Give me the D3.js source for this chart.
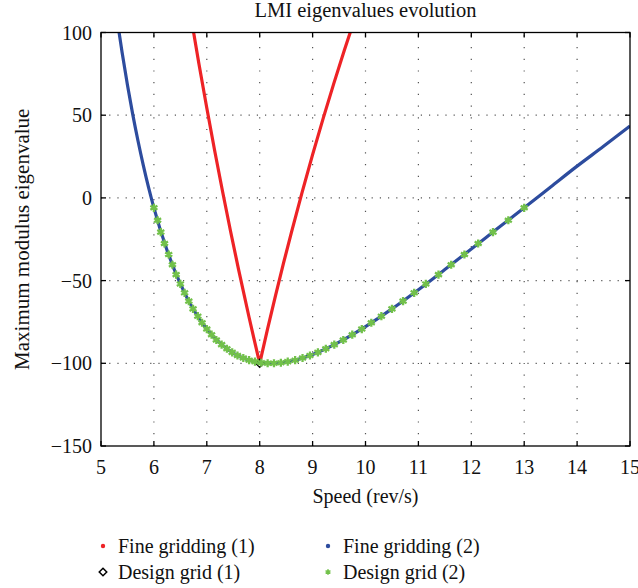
<!DOCTYPE html>
<html>
<head>
<meta charset="utf-8">
<script src="https://cdn.jsdelivr.net/npm/d3@7"></script>
<style>
  body { margin: 0; background: #fff; }
  svg text { font-family: "Liberation Serif", "DejaVu Serif", serif; fill: #111; }
</style>
</head>
<body>
<div id="chart"></div>
<script>
const W = 638, H = 588;
const MARGIN = { LEFT: 101, RIGHT: 8, TOP: 32.5, BOTTOM: 142 };

// data
const xTicks = [5, 6, 7, 8, 9, 10, 11, 12, 13, 14, 15];
const yTicks = [100, 50, 0, -50, -100, -150];

// Fine gridding (1) - red V
const fine1X = [6.7, 6.85, 7.0, 7.15, 7.3, 7.45, 7.6, 7.8, 7.9, 8.0, 8.15, 8.3, 8.45, 8.6, 8.8, 9.0, 9.2, 9.4, 9.6, 9.8];
const fine1Y = [109.6, 81.3, 54.3, 28.4, 3.6, -20.3, -43.2, -72.3, -86.3, -100, -79.1, -59.0, -39.5, -20.8, 3.2, 26.2, 48.1, 69.1, 89.3, 108.6];

// Fine gridding (2) - blue curve
const fine2X = [5.3, 5.4, 5.5, 5.6, 5.7, 5.8, 5.9, 6.0, 6.25, 6.5, 6.75, 7.0, 7.25, 7.5, 7.75, 8.0, 8.25, 8.5, 8.75, 9.0, 9.5, 10, 10.5, 11, 11.5, 12, 12.5, 13, 13.5, 14, 14.5, 15];
const fine2Y = [108.9, 87.7, 68.3, 50.5, 34.4, 19.7, 6.2, -6.0, -31.8, -52.0, -67.6, -79.3, -87.8, -93.8, -97.6, -99.5, -100.0, -99.2, -97.4, -94.7, -87.2, -77.8, -67.1, -55.5, -43.3, -30.9, -18.4, -6.0, 6.6, 19.2, 31.2, 43.5];

// Design grid (1) - single diamond
const design1X = [8];
const design1Y = [-100];

// Design grid (2) - green stars
const design2X = [6.00, 6.07, 6.13, 6.20, 6.28, 6.35, 6.42, 6.50, 6.58, 6.66,
                  6.74, 6.83, 6.91, 7.00, 7.09, 7.18, 7.28, 7.38, 7.48, 7.58,
                  7.69, 7.80, 7.91, 8.03, 8.15, 8.27, 8.40, 8.53, 8.67, 8.81,
                  8.95, 9.10, 9.25, 9.41, 9.58, 9.75, 9.93, 10.11, 10.30, 10.50,
                  10.71, 10.92, 11.14, 11.38, 11.62, 11.87, 12.13, 12.41, 12.70, 13.00];
const design2Y = [-6.0, -13.5, -20.7, -27.6, -34.2, -40.4, -46.4, -52.0, -57.4, -62.4,
                  -67.1, -71.5, -75.5, -79.3, -82.7, -85.9, -88.7, -91.2, -93.4, -95.3,
                  -96.8, -98.1, -99.0, -99.7, -100.0, -100.0, -99.7, -99.0, -98.1, -96.8,
                  -95.3, -93.4, -91.2, -88.7, -85.9, -82.7, -79.3, -75.5, -71.5, -67.1,
                  -62.4, -57.4, -52.0, -46.4, -40.4, -34.2, -27.6, -20.7, -13.5, -6.0];

const legendLabels = ["Fine gridding (1)", "Fine gridding (2)", "Design grid (1)", "Design grid (2)"];

const RED = "#ee2326", BLUE = "#2d4c9e", GREEN = "#72c14a";
const FS = "20px";

const svg = d3.select("#chart").append("svg")
    .attr("width", W)
    .attr("height", H);

const x = d3.scaleLinear().domain([5, 15]).range([MARGIN.LEFT, W - MARGIN.RIGHT]);
const y = d3.scaleLinear().domain([-150, 100]).range([H - MARGIN.BOTTOM, MARGIN.TOP]);

const x0 = x.range()[0], x1 = x.range()[1], y0 = y.range()[0], y1 = y.range()[1];

// grid
svg.append("g").selectAll("line")
    .data(xTicks.slice(1, -1))
    .join("line")
    .attr("x1", d => x(d)).attr("x2", d => x(d))
    .attr("y1", y0).attr("y2", y1)
    .attr("stroke", "#555").attr("stroke-width", 1.2)
    .attr("stroke-dasharray", "1.2,10.5");

svg.append("g").selectAll("line")
    .data(yTicks.slice(1, -1))
    .join("line")
    .attr("x1", x0).attr("x2", x1)
    .attr("y1", d => y(d)).attr("y2", d => y(d))
    .attr("stroke", "#555").attr("stroke-width", 1.2)
    .attr("stroke-dasharray", "1.2,7");

// clip
svg.append("clipPath").attr("id", "clip")
    .append("rect")
    .attr("x", x0).attr("y", y1)
    .attr("width", x1 - x0).attr("height", y0 - y1);

const plot = svg.append("g").attr("clip-path", "url(#clip)");

const fine1 = fine1X.map((d, i) => [d, fine1Y[i]]);
const fine2 = fine2X.map((d, i) => [d, fine2Y[i]]);
const design2 = design2X.map((d, i) => [d, design2Y[i]]);

plot.append("path")
    .datum(fine1)
    .attr("d", d3.line().x(d => x(d[0])).y(d => y(d[1])))
    .attr("fill", "none")
    .attr("stroke", RED)
    .attr("stroke-width", 3.2);

plot.append("path")
    .datum(fine2)
    .attr("d", d3.line().x(d => x(d[0])).y(d => y(d[1])).curve(d3.curveMonotoneX))
    .attr("fill", "none")
    .attr("stroke", BLUE)
    .attr("stroke-width", 3.2);

const diamond = d3.symbol().type(d3.symbolDiamond2).size(40);
const star = d3.symbol().type(d3.symbolAsterisk).size(46);

plot.selectAll(".d1")
    .data(design1X.map((d, i) => [d, design1Y[i]]))
    .join("path")
    .attr("class", "d1")
    .attr("transform", d => `translate(${x(d[0])},${y(d[1])})`)
    .attr("d", diamond)
    .attr("fill", "none")
    .attr("stroke", "#000")
    .attr("stroke-width", 1.5);

plot.selectAll(".d2")
    .data(design2)
    .join("path")
    .attr("class", "d2")
    .attr("transform", d => `translate(${x(d[0])},${y(d[1])})`)
    .attr("d", star)
    .attr("fill", "none")
    .attr("stroke", GREEN)
    .attr("stroke-width", 2.3);

// frame + inward ticks
svg.append("rect")
    .attr("x", x0).attr("y", y1)
    .attr("width", x1 - x0).attr("height", y0 - y1)
    .attr("fill", "none")
    .attr("stroke", "#000")
    .attr("stroke-width", 1.3);

const TICK = 5;
const ticks = svg.append("g").attr("stroke", "#000").attr("stroke-width", 1.3);
xTicks.forEach(t => {
    ticks.append("line").attr("x1", x(t)).attr("x2", x(t)).attr("y1", y0).attr("y2", y0 - TICK);
    ticks.append("line").attr("x1", x(t)).attr("x2", x(t)).attr("y1", y1).attr("y2", y1 + TICK);
});
yTicks.forEach(t => {
    ticks.append("line").attr("x1", x0).attr("x2", x0 + TICK).attr("y1", y(t)).attr("y2", y(t));
    ticks.append("line").attr("x1", x1).attr("x2", x1 - TICK).attr("y1", y(t)).attr("y2", y(t));
});

// tick labels
const fmt = d => d < 0 ? "\u2212" + Math.abs(d) : String(d);

svg.append("g").selectAll("text")
    .data(xTicks)
    .join("text")
    .attr("x", d => x(d))
    .attr("y", y0 + 28)
    .attr("text-anchor", "middle")
    .style("font-size", FS)
    .text(fmt);

svg.append("g").selectAll("text")
    .data(yTicks)
    .join("text")
    .attr("x", x0 - 9)
    .attr("y", d => y(d))
    .attr("dy", "0.35em")
    .attr("text-anchor", "end")
    .style("font-size", FS)
    .text(fmt);

// titles
svg.append("text")
    .attr("x", (x0 + x1) / 2)
    .attr("y", 17)
    .attr("text-anchor", "middle")
    .style("font-size", "20.5px")
    .text("LMI eigenvalues evolution");

svg.append("text")
    .attr("x", (x0 + x1) / 2)
    .attr("y", 503)
    .attr("text-anchor", "middle")
    .style("font-size", FS)
    .text("Speed (rev/s)");

svg.append("text")
    .attr("transform", `translate(29, ${(y0 + y1) / 2}) rotate(-90)`)
    .attr("text-anchor", "middle")
    .style("font-size", "21px")
    .text("Maximum modulus eigenvalue");

// legend
const legendPos = [[103, 546], [328, 546], [103, 572], [328, 572]];
const legend = svg.append("g");
legendLabels.forEach((label, i) => {
    const [lx, ly] = legendPos[i];
    if (i === 0 || i === 1) {
        legend.append("circle").attr("cx", lx).attr("cy", ly).attr("r", 2.2)
            .attr("fill", i === 0 ? RED : BLUE);
    } else if (i === 2) {
        legend.append("path").attr("transform", `translate(${lx},${ly})`)
            .attr("d", d3.symbol().type(d3.symbolDiamond2).size(36))
            .attr("fill", "none").attr("stroke", "#000").attr("stroke-width", 1.5);
    } else {
        legend.append("path").attr("transform", `translate(${lx},${ly})`)
            .attr("d", d3.symbol().type(d3.symbolAsterisk).size(22))
            .attr("fill", "none").attr("stroke", GREEN).attr("stroke-width", 1.6);
    }
    legend.append("text")
        .attr("x", lx + 15)
        .attr("y", ly)
        .attr("dy", "0.35em")
        .style("font-size", FS)
        .text(label);
});
</script>
</body>
</html>
